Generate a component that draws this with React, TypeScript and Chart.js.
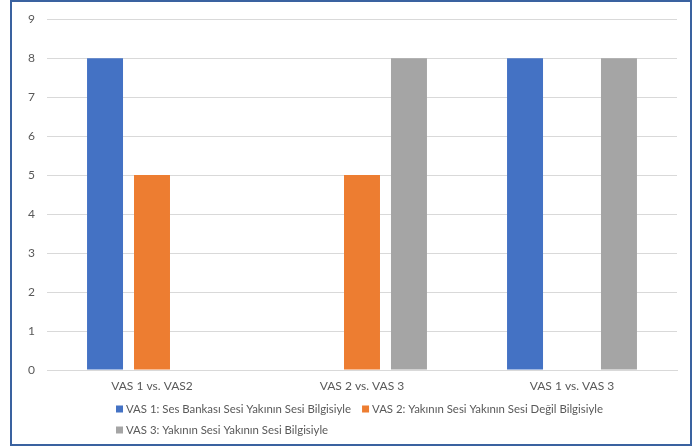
import React, { useEffect, useRef } from "react";
import { Chart, registerables } from "chart.js";

Chart.register(...registerables);

const categories = ["VAS 1 vs. VAS2", "VAS 2 vs. VAS 3", "VAS 1 vs. VAS 3"];
const seriesNames = [
  "VAS 1: Ses Bankası Sesi Yakının Sesi Bilgisiyle",
  "VAS 2: Yakının Sesi Yakının Sesi Değil Bilgisiyle",
  "VAS 3: Yakının Sesi Yakının Sesi Bilgisiyle",
];
const vas1Values = [8, 0, 8];
const vas2Values = [5, 5, 0];
const vas3Values = [0, 8, 8];
const seriesColors = ["#4472C4", "#ED7D31", "#A5A5A5"];
const yTicks = [0, 1, 2, 3, 4, 5, 6, 7, 8, 9];

const FONT = "Lato";
const TEXT_COLOR = "#595959";

const legendPlugin = {
  id: "customLegend",
  afterDraw(chart: any) {
    const ctx = chart.ctx;
    ctx.save();
    ctx.font = `11.4px ${FONT}`;
    ctx.fillStyle = TEXT_COLOR;
    ctx.textBaseline = "middle";
    const rows = [
      [0, 1],
      [2],
    ];
    const rowY = [409, 430];
    rows.forEach((row, r) => {
      let x = 116;
      row.forEach((i) => {
        const ds = chart.data.datasets[i];
        ctx.fillStyle = ds.backgroundColor;
        ctx.fillRect(x, rowY[r] - 3.5, 7, 7);
        ctx.fillStyle = TEXT_COLOR;
        ctx.textAlign = "left";
        ctx.fillText(ds.label, x + 10, rowY[r]);
        x += 10 + ctx.measureText(ds.label).width + 11;
      });
    });
    ctx.restore();
  },
};

export default function App() {
  const canvasRef = useRef<HTMLCanvasElement>(null);

  useEffect(() => {
    document.body.style.margin = "0";
    const ctx = canvasRef.current!;
    const values = [vas1Values, vas2Values, vas3Values];
    const chart = new Chart(ctx, {
      type: "bar",
      data: {
        labels: categories,
        datasets: seriesNames.map((name, i) => ({
          label: name,
          data: values[i],
          backgroundColor: seriesColors[i],
          borderWidth: 0,
          categoryPercentage: 0.671,
          barPercentage: 0.766,
        })),
      },
      options: {
        animation: false,
        responsive: false,
        maintainAspectRatio: false,
        layout: { padding: { left: 0, right: 17, top: 10, bottom: 47 } },
        plugins: {
          legend: { display: false },
          tooltip: { enabled: false },
        },
        scales: {
          x: {
            grid: { display: false },
            border: { display: true, color: "#D9D9D9", width: 1 },
            ticks: {
              color: TEXT_COLOR,
              font: { family: FONT, size: 12 },
              padding: 1,
              maxRotation: 0,
            },
            afterFit(scale: any) {
              scale.height = 30;
            },
          },
          y: {
            min: 0,
            max: 9,
            afterBuildTicks(scale: any) {
              scale.ticks = yTicks.map((v) => ({ value: v }));
            },
            grid: { color: "#D9D9D9", drawTicks: false },
            border: { display: false },
            ticks: {
              color: TEXT_COLOR,
              font: { family: FONT, size: 12 },
              padding: 12,
              stepSize: 1,
            },
            afterFit(scale: any) {
              scale.width = 47;
            },
          },
        },
      },
      plugins: [legendPlugin],
    });
    return () => chart.destroy();
  }, []);

  return (
    <div style={{ position: "relative", width: 694, height: 447, background: "#fff" }}>
      <canvas ref={canvasRef} width={694} height={447} style={{ display: "block" }} />
      <div
        style={{
          position: "absolute",
          left: 10,
          top: 0,
          width: 682,
          height: 446,
          boxSizing: "border-box",
          border: "2px solid #3A62A0",
          pointerEvents: "none",
        }}
      />
    </div>
  );
}
